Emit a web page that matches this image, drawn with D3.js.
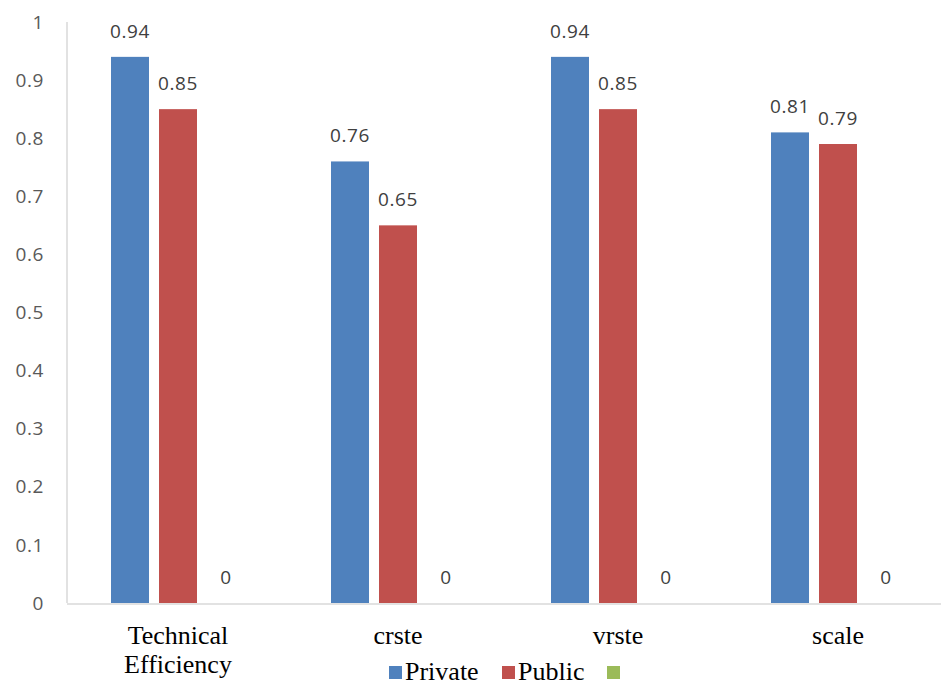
<!DOCTYPE html>
<html>
<head>
<meta charset="utf-8">
<script src="https://cdn.jsdelivr.net/npm/d3@7"></script>
<style>
  html, body { margin: 0; padding: 0; background: #fff; }
  svg { display: block; }
  .num { font-family: "Open Sans", "Liberation Sans", sans-serif; }
  .serif, .serif tspan { font-family: "Liberation Serif", "Times New Roman", "DejaVu Serif", serif; }
</style>
</head>
<body>
<svg id="chart" width="941" height="686"></svg>
<script>
// Efficiency scores by category and ownership type
const categories = [["Technical", "Efficiency"], ["crste"], ["vrste"], ["scale"]];
const seriesNames = ["Private", "Public", ""];
const privateValues = [0.94, 0.76, 0.94, 0.81];
const publicValues = [0.85, 0.65, 0.85, 0.79];
const thirdValues = [0, 0, 0, 0];
const yTicks = [0, 0.1, 0.2, 0.3, 0.4, 0.5, 0.6, 0.7, 0.8, 0.9, 1];
const yTickLabels = ["0", "0.1", "0.2", "0.3", "0.4", "0.5", "0.6", "0.7", "0.8", "0.9", "1"];

const colors = ["#4f81bd", "#c0504d", "#9bbb59"];
const seriesValues = [privateValues, publicValues, thirdValues];

const svg = d3.select("#chart");
const plotLeft = 67, plotRight = 947, plotTop = 22, plotBottom = 603;

const x0 = d3.scaleBand().domain(d3.range(categories.length)).range([plotLeft, plotRight]).paddingInner(0).paddingOuter(0);
const y = d3.scaleLinear().domain([0, 1]).range([plotBottom, plotTop]);

// three bars per category with small gaps between them
const barW = 38, gap = 10;
const groupW = seriesValues.length * barW + (seriesValues.length - 1) * gap;
const xs = i => x0(i) + (x0.bandwidth() - groupW) / 2 + 1;

// y axis line
svg.append("line")
  .attr("x1", plotLeft).attr("x2", plotLeft).attr("y1", plotTop).attr("y2", plotBottom)
  .attr("stroke", "#d9d9d9").attr("stroke-width", 1.5);

// y tick labels
svg.append("g").selectAll("text").data(yTicks).join("text")
  .attr("class", "num")
  .attr("x", 44).attr("y", d => y(d)).attr("dy", "0.35em")
  .attr("text-anchor", "end")
  .attr("font-size", 19).attr("letter-spacing", 0.6).attr("fill", "#595959")
  .text((d, i) => yTickLabels[i]);

// bars with value labels
seriesValues.forEach((vals, s) => {
  const g = svg.append("g");
  g.selectAll("rect").data(vals).join("rect")
    .attr("x", (d, i) => xs(i) + s * (barW + gap))
    .attr("y", d => y(d))
    .attr("width", barW)
    .attr("height", d => y(0) - y(d))
    .attr("fill", colors[s]);
  g.selectAll("text").data(vals).join("text")
    .attr("class", "num")
    .attr("x", (d, i) => xs(i) + s * (barW + gap) + barW / 2)
    .attr("y", d => y(d) - 19)
    .attr("text-anchor", "middle")
    .attr("font-size", 19).attr("letter-spacing", 0.6).attr("fill", "#404040")
    .text(d => String(d));
});

// baseline
svg.append("line")
  .attr("x1", plotLeft).attr("x2", plotRight).attr("y1", plotBottom + 1).attr("y2", plotBottom + 1)
  .attr("stroke", "#d9d9d9").attr("stroke-width", 1.5);

// category labels
const cat = svg.append("g").selectAll("text").data(categories).join("text")
  .attr("class", "serif")
  .attr("x", (d, i) => x0(i) + x0.bandwidth() / 2 + 1)
  .attr("y", 644)
  .attr("text-anchor", "middle")
  .attr("font-size", 26).attr("fill", "#000");
cat.each(function(lines) {
  const cx = d3.select(this).attr("x");
  d3.select(this).selectAll("tspan").data(lines).join("tspan")
    .attr("x", cx)
    .attr("dy", (d, i) => i === 0 ? 0 : 29)
    .text(d => d);
});

// legend
const legendX = [389, 502, 607];
const lg = svg.append("g");
seriesNames.forEach((name, i) => {
  lg.append("rect").attr("x", legendX[i]).attr("y", 666).attr("width", 13).attr("height", 13).attr("fill", colors[i]);
  if (name) {
    lg.append("text").attr("class", "serif").attr("x", legendX[i] + 16).attr("y", 680)
      .attr("font-size", 26).attr("fill", "#000").text(name);
  }
});
</script>
</body>
</html>
